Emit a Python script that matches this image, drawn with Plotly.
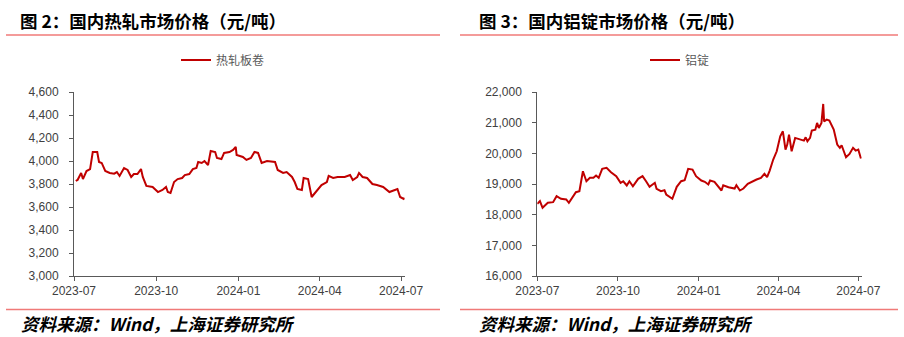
import plotly.graph_objects as go

# ---- Data: 热轧板卷 (元/吨) ----
steel_dates = [
    "2023-07-03", "2023-07-05", "2023-07-09", "2023-07-11", "2023-07-15", "2023-07-19",
    "2023-07-22", "2023-07-27", "2023-07-29", "2023-08-01", "2023-08-05", "2023-08-10",
    "2023-08-15", "2023-08-18", "2023-08-21", "2023-08-26", "2023-08-30", "2023-09-03",
    "2023-09-06", "2023-09-10", "2023-09-14", "2023-09-16", "2023-09-20", "2023-09-27",
    "2023-10-03", "2023-10-08", "2023-10-12", "2023-10-14", "2023-10-17", "2023-10-21",
    "2023-10-25", "2023-10-30", "2023-11-02", "2023-11-07", "2023-11-11", "2023-11-15",
    "2023-11-17", "2023-11-21", "2023-11-24", "2023-11-28", "2023-12-01", "2023-12-06",
    "2023-12-08", "2023-12-13", "2023-12-16", "2023-12-22", "2023-12-26", "2023-12-29",
    "2023-12-30", "2024-01-06", "2024-01-10", "2024-01-15", "2024-01-19", "2024-01-23",
    "2024-01-27", "2024-02-02", "2024-02-11", "2024-02-14", "2024-02-20", "2024-02-24",
    "2024-03-01", "2024-03-04", "2024-03-07", "2024-03-12", "2024-03-14", "2024-03-19",
    "2024-03-23", "2024-03-29", "2024-04-03", "2024-04-09", "2024-04-11", "2024-04-16",
    "2024-04-21", "2024-04-29", "2024-05-05", "2024-05-08", "2024-05-13", "2024-05-15",
    "2024-05-19", "2024-05-24", "2024-05-30", "2024-06-04", "2024-06-11", "2024-06-18",
    "2024-06-27", "2024-06-30", "2024-07-04", "2024-07-05",
]
steel_values = [
    3826, 3835, 3896, 3843, 3913, 3930,
    4078, 4078, 3991, 3983, 3913, 3896,
    3890, 3904, 3870, 3939, 3922, 3861,
    3887, 3887, 3930, 3861, 3783, 3774,
    3730, 3748, 3774, 3730, 3722, 3817,
    3843, 3852, 3878, 3887, 3930, 3939,
    3991, 3983, 4000, 3965, 4087, 4078,
    4026, 4017, 4070, 4078, 4096, 4122,
    4052, 4035, 4009, 4026, 4078, 4070,
    3983, 4000, 3991, 3922, 3896, 3904,
    3861, 3817, 3757, 3748, 3852, 3843,
    3687, 3748, 3791, 3817, 3870, 3852,
    3861, 3861, 3878, 3835, 3861, 3896,
    3861, 3852, 3800, 3791, 3774, 3730,
    3757, 3687, 3670, 3680,
]

# ---- Data: 铝锭 (元/吨) ----
alu_dates = [
    "2023-07-01", "2023-07-04", "2023-07-07", "2023-07-13", "2023-07-19", "2023-07-23",
    "2023-07-28", "2023-08-03", "2023-08-06", "2023-08-10", "2023-08-14", "2023-08-18",
    "2023-08-22", "2023-08-26", "2023-08-30", "2023-09-03", "2023-09-06", "2023-09-09",
    "2023-09-13", "2023-09-18", "2023-09-23", "2023-09-29", "2023-10-04", "2023-10-07",
    "2023-10-11", "2023-10-14", "2023-10-18", "2023-10-24", "2023-10-29", "2023-11-02",
    "2023-11-06", "2023-11-12", "2023-11-14", "2023-11-19", "2023-11-23", "2023-11-25",
    "2023-12-02", "2023-12-07", "2023-12-12", "2023-12-16", "2023-12-20", "2023-12-25",
    "2023-12-29", "2024-01-04", "2024-01-08", "2024-01-12", "2024-01-14", "2024-01-19",
    "2024-01-23", "2024-01-27", "2024-01-29", "2024-02-04", "2024-02-11", "2024-02-13",
    "2024-02-17", "2024-02-21", "2024-02-26", "2024-03-01", "2024-03-07", "2024-03-12",
    "2024-03-16", "2024-03-19", "2024-03-22", "2024-03-26", "2024-03-30", "2024-04-03",
    "2024-04-06", "2024-04-09", "2024-04-11", "2024-04-13", "2024-04-16", "2024-04-20",
    "2024-04-26", "2024-04-30", "2024-05-02", "2024-05-04", "2024-05-07", "2024-05-09",
    "2024-05-13", "2024-05-15", "2024-05-17", "2024-05-20", "2024-05-22", "2024-05-23",
    "2024-05-26", "2024-05-29", "2024-06-03", "2024-06-07", "2024-06-10", "2024-06-12",
    "2024-06-17", "2024-06-21", "2024-06-25", "2024-06-28", "2024-07-01", "2024-07-04",
]
alu_values = [
    18350, 18440, 18225, 18388, 18408, 18603,
    18518, 18495, 18388, 18550, 18733, 18765,
    19416, 19090, 19201, 19201, 19276, 19201,
    19494, 19527, 19384, 19254, 19039, 19090,
    18951, 19090, 18928, 19169, 19254, 19090,
    18909, 19039, 18844, 18765, 18798, 18658,
    18518, 18909, 19090, 19123, 19494, 19471,
    19254, 19113, 19071, 18984, 19113, 19071,
    18928, 18788, 18961, 18896, 18853, 18961,
    18788, 18853, 19006, 19071, 19146, 19201,
    19331, 19221, 19439, 19797, 20067, 20555,
    20718, 20122, 20285, 20610, 20067, 20503,
    20448, 20415, 20522, 20393, 20503, 20741,
    20773, 20991, 20829, 20991, 21610, 21043,
    21099, 21066, 20773, 20285, 20178, 20263,
    19872, 19982, 20178, 20090, 20122, 19830,
]

titles = ["图 2：国内热轧市场价格（元/吨）", "图 3：国内铝锭市场价格（元/吨）"]
series_names = ["热轧板卷", "铝锭"]
source_text = "资料来源：Wind，上海证券研究所"

W, H = 904, 337
LINE_RED = "#C00000"
RULE_RED = "#F07A78"
AXIS_GREY = "#595959"
TICK_FONT = dict(family="Liberation Sans, Arial", size=12, color="#404040")

def px(xp):
    return xp / W

def py(yp):
    return 1 - yp / H

fig = go.Figure()
fig.add_trace(go.Scatter(x=steel_dates, y=steel_values, mode="lines", name=series_names[0],
                         line=dict(color=LINE_RED, width=2), xaxis="x", yaxis="y",
                         legend="legend"))
fig.add_trace(go.Scatter(x=alu_dates, y=alu_values, mode="lines", name=series_names[1],
                         line=dict(color=LINE_RED, width=2), xaxis="x2", yaxis="y2",
                         legend="legend2"))

ydom = [py(276), py(92)]

def xaxis_cfg(domain, anchor):
    return dict(domain=domain, anchor=anchor, type="date", automargin=False,
                range=["2023-07-01", "2024-07-05"],
                tick0="2023-07-01", dtick="M3", tickformat="%Y-%m",
                showline=True, linecolor=AXIS_GREY, linewidth=1,
                ticks="outside", ticklen=4, tickcolor=AXIS_GREY,
                showgrid=False, zeroline=False, tickfont=TICK_FONT)

def yaxis_cfg(rng, dtick, anchor):
    return dict(domain=ydom, anchor=anchor, range=rng, dtick=dtick, tickformat=",",
                automargin=False,
                showline=True, linecolor=AXIS_GREY, linewidth=1,
                ticks="outside", ticklen=4, tickcolor=AXIS_GREY,
                ticklabelstandoff=8,
                showgrid=False, zeroline=False, tickfont=TICK_FONT)

legend_font = dict(family="Noto Sans CJK SC", size=12, color="#595959")

fig.update_layout(
    width=W, height=H,
    margin=dict(l=0, r=0, t=0, b=0, autoexpand=False),
    paper_bgcolor="white", plot_bgcolor="white",
    xaxis=xaxis_cfg([px(74), px(404.6)], "y"),
    yaxis=yaxis_cfg([3000, 4600], 200, "x"),
    xaxis2=xaxis_cfg([px(537.3), px(861.8)], "y2"),
    yaxis2=yaxis_cfg([16000, 22000], 1000, "x2"),
    legend=dict(x=px(223), y=py(60), xanchor="center", yanchor="middle",
                orientation="h", font=legend_font, bgcolor="rgba(0,0,0,0)"),
    legend2=dict(x=px(680), y=py(60), xanchor="center", yanchor="middle",
                 orientation="h", font=legend_font, bgcolor="rgba(0,0,0,0)"),
    showlegend=True,
)

title_font = dict(family="Noto Sans CJK SC", size=17.5, color="#000000", weight="bold")
src_font = dict(family="Noto Sans CJK SC", size=17.5, color="#000000", weight="bold", style="italic")

for xl, t in zip([18, 477], titles):
    fig.add_annotation(text=t, xref="paper", yref="paper", x=px(xl), y=py(20),
                       xanchor="left", yanchor="middle", showarrow=False, font=title_font)
for xl in [19, 477]:
    fig.add_annotation(text=source_text, xref="paper", yref="paper", x=px(xl), y=py(323),
                       xanchor="left", yanchor="middle", showarrow=False, font=src_font)

for x0, x1 in [(6, 440), (460, 898)]:
    for yy in (35, 309.5):
        fig.add_shape(type="line", xref="paper", yref="paper",
                      x0=px(x0), x1=px(x1), y0=py(yy), y1=py(yy),
                      line=dict(color=RULE_RED, width=1.3))

fig.write_html(
    "out.html",
    config={"displayModeBar": False},
    post_script="document.body.style.margin='0';document.body.style.padding='0';"
                "document.documentElement.style.overflow='hidden';",
)
